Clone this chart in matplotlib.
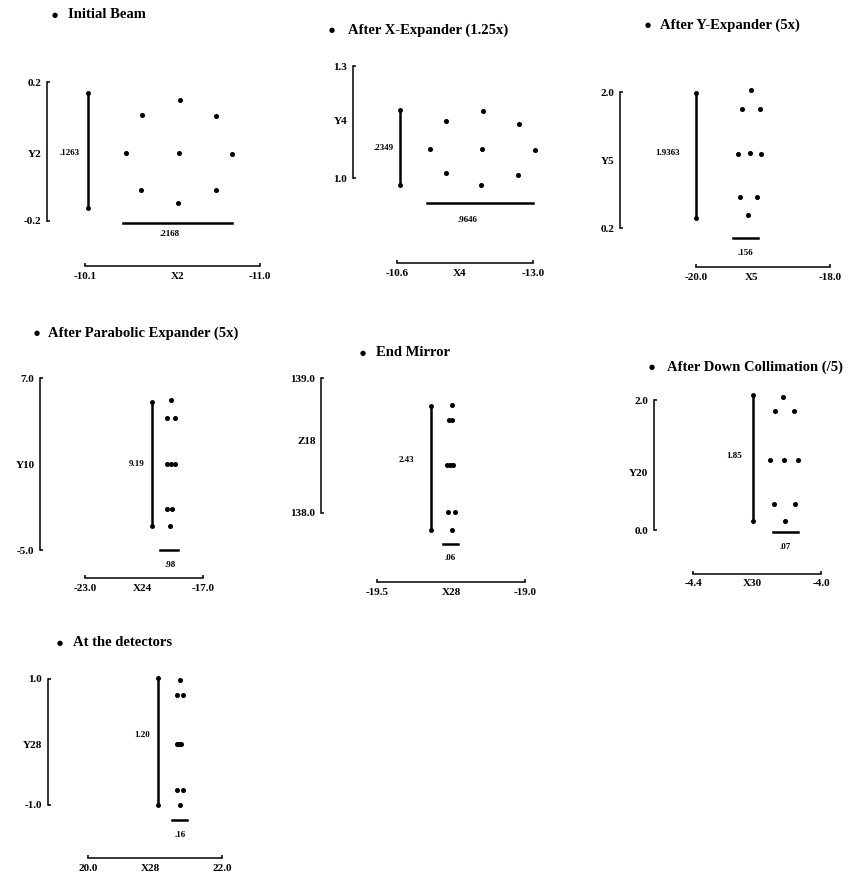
import matplotlib
matplotlib.use("Agg")
import matplotlib.pyplot as plt

# ---------------- data (normalised beam coordinates along each bracket axis) ----
titles = ["Initial Beam", "After X-Expander (1.25x)", "After Y-Expander (5x)",
          "After Parabolic Expander (5x)", "End Mirror",
          "After Down Collimation (/5)", "At the detectors"]

x_tick_labels = [["-10.1", "X2", "-11.0"], ["-10.6", "X4", "-13.0"],
                 ["-20.0", "X5", "-18.0"], ["-23.0", "X24", "-17.0"],
                 ["-19.5", "X28", "-19.0"], ["-4.4", "X30", "-4.0"],
                 ["20.0", "X28", "22.0"]]
y_tick_labels = [["-0.2", "Y2", "0.2"], ["1.0", "Y4", "1.3"],
                 ["0.2", "Y5", "2.0"], ["-5.0", "Y10", "7.0"],
                 ["138.0", "Z18", "139.0"], ["0.0", "Y20", "2.0"],
                 ["-1.0", "Y28", "1.0"]]

spot_x = [
    [0.537, 0.543, 0.531, 0.234, 0.840, 0.326, 0.749, 0.320, 0.749],
    [0.625, 0.632, 0.618, 0.243, 1.015, 0.360, 0.897, 0.360, 0.890],
    [0.410, 0.343, 0.478, 0.313, 0.403, 0.485, 0.328, 0.455, 0.388],
    [0.729, 0.695, 0.763, 0.695, 0.729, 0.763, 0.695, 0.737, 0.720],
    [0.507, 0.486, 0.507, 0.473, 0.493, 0.514, 0.480, 0.527, 0.507],
    [0.703, 0.641, 0.789, 0.602, 0.711, 0.820, 0.633, 0.797, 0.719],
    [0.687, 0.664, 0.709, 0.664, 0.679, 0.694, 0.664, 0.709, 0.687],
]
spot_y = [
    [0.489, 0.871, 0.129, 0.489, 0.482, 0.763, 0.755, 0.223, 0.223],
    [0.259, 0.598, -0.063, 0.259, 0.250, 0.509, 0.482, 0.045, 0.027],
    [1.015, 0.875, 0.875, 0.544, 0.551, 0.544, 0.228, 0.228, 0.096],
    [0.872, 0.767, 0.767, 0.500, 0.500, 0.500, 0.238, 0.238, 0.140],
    [0.800, 0.689, 0.689, 0.356, 0.356, 0.356, 0.007, 0.007, -0.126],
    [1.023, 0.915, 0.915, 0.538, 0.538, 0.538, 0.200, 0.200, 0.069],
    [0.992, 0.873, 0.873, 0.484, 0.484, 0.484, 0.119, 0.119, 0.000],
]

# beam-size scale bars (extent in normalised coordinates) and their labels
vbar_extent = [[0.094, 0.921], [-0.063, 0.607], [0.074, 0.993], [0.140, 0.860],
               [-0.126, 0.793], [0.069, 1.038], [0.000, 1.008]]
vbar_labels = [".1263", ".2349", "1.9363", "9.19", "2.43", "1.85", "1.20"]
hbar_extent = [[0.217, 0.840], [0.221, 1.000], [0.276, 0.463], [0.636, 0.788],
               [0.446, 0.547], [0.625, 0.820], [0.627, 0.739]]
hbar_labels = [".2168", ".9646", ".156", ".98", ".06", ".07", ".16"]

# ---------------- layout (pixels / axes fractions) ----------------
W, H = 850, 882
boxes = [(85, 260, 82, 221), (397, 533, 66, 178), (696, 830, 92, 228),
         (85, 203, 378, 550), (377, 525, 378, 513), (693, 821, 400, 530),
         (88, 222, 679, 805)]
yspine_pos = [-0.217, -0.324, -0.567, -0.381, -0.378, -0.305, -0.299]
xspine_pos = [-0.324, -0.759, -0.287, -0.163, -0.511, -0.338, -0.421]
xmid = [0.531, 0.463, 0.418, 0.483, 0.500, 0.461, 0.463]
ymid = [0.489, 0.509, 0.500, 0.500, 0.540, 0.446, 0.484]
vbar_x = [0.017, 0.022, 0.000, 0.568, 0.365, 0.469, 0.522]
vlabel_pos = [(-0.029, 0.489), (-0.022, 0.268), (-0.12, 0.551), (0.508, 0.5),
              (0.25, 0.393), (0.383, 0.569), (0.463, 0.556)]
hbar_y = [-0.014, -0.223, -0.074, 0.0, -0.23, -0.015, -0.119]
hlabel_pos = [(0.486, -0.094), (0.522, -0.375), (0.366, -0.184), (0.72, -0.087),
              (0.493, -0.333), (0.719, -0.131), (0.687, -0.238)]
title_pos = [(55, 68, 15), (332, 348, 30), (648, 660, 25), (37, 48, 333),
             (363, 376, 353), (652, 667, 367), (60, 73, 643)]

FAM = ["Liberation Serif", "DejaVu Serif"]

fig = plt.figure(figsize=(W / 100, H / 100), dpi=100)
fig.patch.set_facecolor("white")

for i in range(7):
    xl, xr, yt, yb = boxes[i]
    ax = fig.add_axes([xl / W, 1 - yb / H, (xr - xl) / W, (yb - yt) / H])
    ax.set_xlim(0, 1)
    ax.set_ylim(0, 1)
    ax.patch.set_visible(False)
    ax.spines["top"].set_visible(False)
    ax.spines["right"].set_visible(False)
    ax.spines["left"].set_position(("axes", yspine_pos[i]))
    ax.spines["bottom"].set_position(("axes", xspine_pos[i]))
    for s in ("left", "bottom"):
        ax.spines[s].set_linewidth(1.1)
    ax.xaxis.remove_overlapping_locs = False
    ax.yaxis.remove_overlapping_locs = False
    ax.set_xticks([0, xmid[i], 1])
    ax.set_xticklabels(x_tick_labels[i], family=FAM, weight="bold", fontsize=8)
    ax.set_yticks([0, ymid[i], 1])
    ax.set_yticklabels(y_tick_labels[i], family=FAM, weight="bold", fontsize=8)
    ax.tick_params(which="major", length=0, pad=4)
    ax.set_xticks([0, 1], minor=True)
    ax.set_yticks([0, 1], minor=True)
    ax.tick_params(which="minor", direction="in", length=2.5, width=1.1)

    ax.plot(spot_x[i], spot_y[i], "o", ms=2.6, color="black", clip_on=False)
    ax.plot([vbar_x[i], vbar_x[i]], vbar_extent[i], color="black", lw=1.8,
            marker="o", ms=2.5, clip_on=False)
    ax.plot(hbar_extent[i], [hbar_y[i], hbar_y[i]], color="black", lw=1.8,
            clip_on=False)
    ax.text(vlabel_pos[i][0], vlabel_pos[i][1], vbar_labels[i], ha="right",
            va="center", family=FAM, weight="bold", fontsize=6.5)
    ax.text(hlabel_pos[i][0], hlabel_pos[i][1], hbar_labels[i], ha="center",
            va="center", family=FAM, weight="bold", fontsize=6.5)

    bx, tx, ty = title_pos[i]
    fig.text(bx / W, 1 - ty / H, "\u25CF", ha="center", va="center",
             fontsize=5, family=["DejaVu Sans"])
    fig.text(tx / W, 1 - ty / H, titles[i], ha="left", va="center",
             fontsize=10.5, family=FAM, weight="bold")

fig.savefig("out.png", dpi=100, facecolor="white")
